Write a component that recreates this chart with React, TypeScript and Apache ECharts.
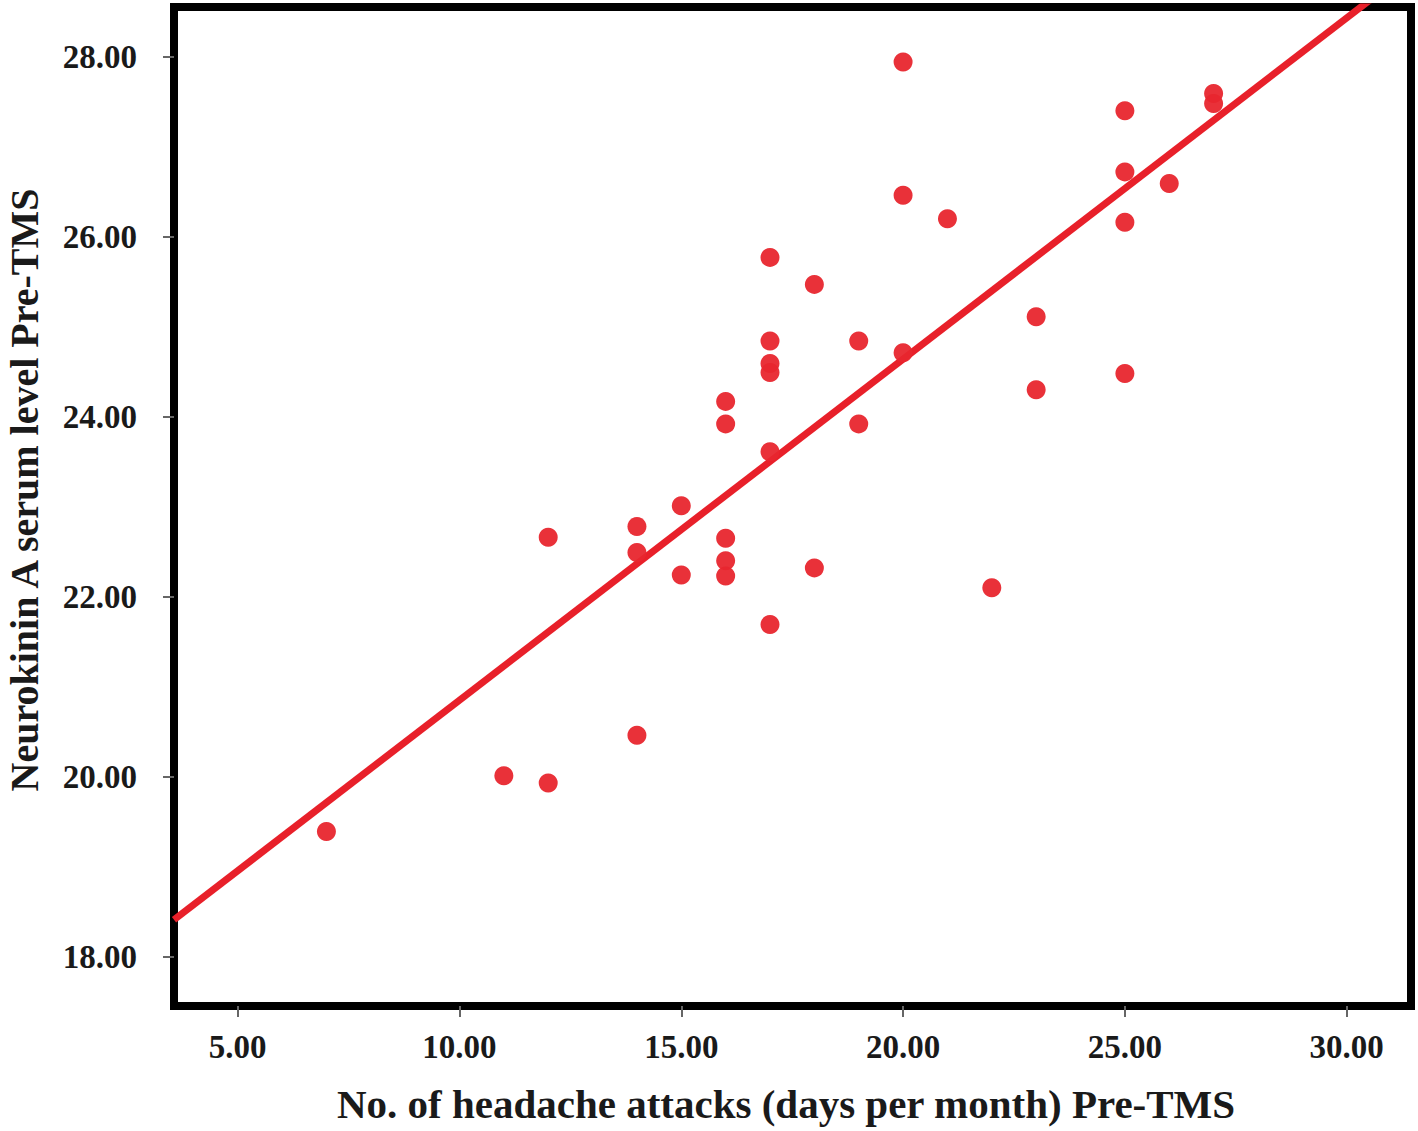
import React, { useEffect, useRef } from "react";
import * as echarts from "echarts";

// Scatter data: [headache days per month, Neurokinin A serum level]
const attackDays: number[] = [
  7, 11, 12, 12, 14, 14, 14, 15, 15, 16, 16, 16, 16, 16, 17, 17, 17, 17, 17, 17,
  18, 18, 19, 19, 20, 20, 20, 21, 22, 23, 23, 25, 25, 25, 25, 26, 27, 27,
];
const nkaLevels: number[] = [
  19.39, 20.01, 19.93, 22.66, 20.46, 22.78, 22.49, 23.01, 22.24, 24.17, 23.92, 22.65,
  22.4, 22.23, 25.77, 24.84, 24.59, 24.49, 23.61, 21.69, 25.47, 22.32, 24.84, 23.92,
  27.94, 26.46, 24.71, 26.2, 22.1, 25.11, 24.3, 27.4, 26.72, 26.16, 24.48, 26.59,
  27.59, 27.48,
];

// Fit line end points
const fitLineX: number[] = [3.564, 31.45];
const fitLineY: number[] = [18.41, 28.98];

const xTicks: number[] = [5, 10, 15, 20, 25, 30];
const yTicks: number[] = [18, 20, 22, 24, 26, 28];

const xAxisTitle = "No. of headache attacks (days per month) Pre-TMS";
const yAxisTitle = "Neurokinin A serum level Pre-TMS";

export default function App() {
  const ref = useRef<HTMLDivElement>(null);

  useEffect(() => {
    if (!ref.current) return;
    const chart = echarts.init(ref.current, undefined, { renderer: "svg" });
    const font = "'Liberation Serif', 'Times New Roman', serif";
    const points = attackDays.map((x, i) => [x, nkaLevels[i]]);
    const line = fitLineX.map((x, i) => [x, fitLineY[i]]);

    chart.setOption({
      animation: false,
      backgroundColor: "#ffffff",
      grid: {
        left: 174,
        top: 7,
        width: 1237,
        height: 999,
        show: true,
        borderColor: "#000000",
        borderWidth: 8,
        backgroundColor: "transparent",
        containLabel: false,
        outerBoundsMode: "none",
      },
      xAxis: {
        type: "value",
        min: 3.564,
        max: 31.45,
        name: xAxisTitle,
        nameLocation: "middle",
        nameGap: 77,
        nameTextStyle: {
          fontFamily: font,
          fontWeight: "bold",
          fontSize: 41,
          color: "#1a1a1a",
          padding: [0, 13, 0, 0],
        },
        splitLine: { show: false },
        axisLine: { show: false },
        axisTick: {
          show: true,
          customValues: xTicks,
          length: 11,
          lineStyle: { color: "#666666", width: 2 },
        },
        axisLabel: {
          customValues: xTicks,
          formatter: (v: number) => v.toFixed(2),
          fontFamily: font,
          fontWeight: "bold",
          fontSize: 33,
          color: "#1a1a1a",
          margin: 24,
        },
      },
      yAxis: {
        type: "value",
        min: 17.452,
        max: 28.552,
        name: yAxisTitle,
        nameLocation: "middle",
        nameGap: 133,
        nameRotate: 90,
        nameTextStyle: {
          fontFamily: font,
          fontWeight: "bold",
          fontSize: 40,
          lineHeight: 34,
          color: "#1a1a1a",
          padding: [0, 0, 0, 33],
        },
        splitLine: { show: false },
        axisLine: { show: false },
        axisTick: {
          show: true,
          customValues: yTicks,
          length: 11,
          lineStyle: { color: "#666666", width: 2 },
        },
        axisLabel: {
          customValues: yTicks,
          formatter: (v: number) => v.toFixed(2),
          fontFamily: font,
          fontWeight: "bold",
          fontSize: 33,
          color: "#1a1a1a",
          margin: 37,
        },
      },
      series: [
        {
          type: "line",
          data: line,
          showSymbol: false,
          clip: true,
          lineStyle: { color: "#e8202a", width: 7 },
          z: 2,
        },
        {
          type: "scatter",
          data: points,
          symbol: "circle",
          symbolSize: 19,
          itemStyle: { color: "#e8262e", opacity: 0.95 },
          z: 3,
        },
      ],
    });

    return () => chart.dispose();
  }, []);

  return (
    <div
      ref={ref}
      style={{ position: "fixed", left: 0, top: 0, width: 1418, height: 1131, background: "#fff" }}
    />
  );
}
